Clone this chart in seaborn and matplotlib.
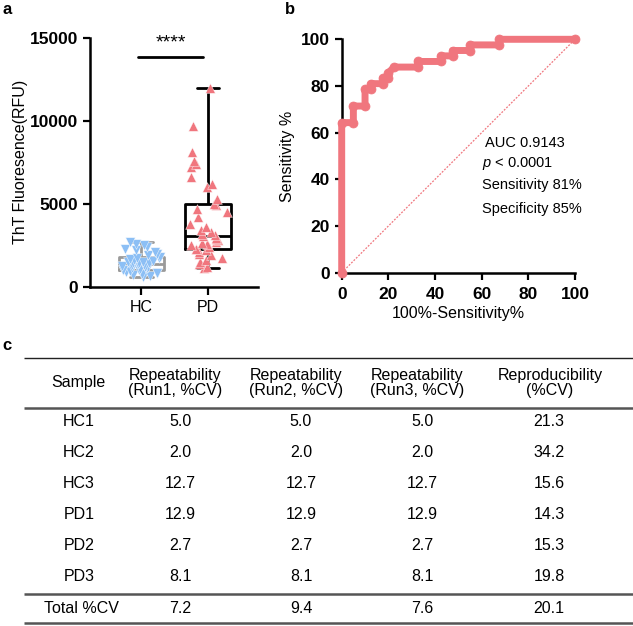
import matplotlib
matplotlib.use("Agg")
import matplotlib.pyplot as plt
import numpy as np
import pandas as pd
import seaborn as sns

sns.set_style("ticks")
plt.rcParams["font.family"] = ["Liberation Sans", "DejaVu Sans"]
plt.rcParams["mathtext.fontset"] = "custom"
plt.rcParams["mathtext.rm"] = "Liberation Sans"
plt.rcParams["mathtext.it"] = "Liberation Sans:italic"
for key in ["text.color", "axes.labelcolor", "xtick.color", "ytick.color", "axes.edgecolor"]:
    plt.rcParams[key] = "black"

BLUE = "#8CBFF5"
SALMON = "#F0767E"

# panel a: ThT fluorescence per subject
hc_values = [600, 650, 700, 750, 800, 850, 900, 950, 980, 1000, 1000, 1050, 1100, 1150,
             1200, 1200, 1250, 1300, 1300, 1350, 1400, 1400, 1450, 1500, 1500, 1550,
             1600, 1650, 1700, 1750, 1800, 1900, 2000, 2100, 2200, 2300, 2400, 2500,
             2600, 2700]
pd_values = [1100, 1200, 1350, 1500, 1600, 1750, 1900, 2000, 2100, 2200, 2250, 2300,
             2400, 2500, 2600, 2650, 2700, 2800, 2900, 2950, 3050, 3100, 3150, 3300,
             3400, 3600, 3800, 4200, 4500, 4700, 4900, 5000, 5300, 6000, 6200, 6600,
             7200, 7400, 7600, 8100, 9700, 12000]
groups = ["HC", "PD"]

# panel b: ROC corner points (100% - specificity, sensitivity)
roc_fpr = [0, 0, 5, 5, 10, 10, 12.5, 12.5, 17.5, 17.5, 20, 20, 22.5, 32.5, 32.5, 42.5,
           42.5, 47.5, 47.5, 55, 55, 67.5, 67.5, 100]
roc_tpr = [0, 64.3, 64.3, 71.4, 71.4, 78.6, 78.6, 81.0, 81.0, 83.3, 83.3, 85.7, 88.1,
           88.1, 90.5, 90.5, 92.9, 92.9, 95.2, 95.2, 97.6, 97.6, 100, 100]
roc_notes = ["AUC 0.9143", r"$\it{p}$ < 0.0001", "Sensitivity 81%", "Specificity 85%"]

# panel c: precision table
col_headers = ["Sample", "Repeatability\n(Run1, %CV)", "Repeatability\n(Run2, %CV)",
               "Repeatability\n(Run3, %CV)", "Reproducibility\n(%CV)"]
samples = ["HC1", "HC2", "HC3", "PD1", "PD2", "PD3"]
run1 = ["5.0", "2.0", "12.7", "12.9", "2.7", "8.1"]
run2 = ["5.0", "2.0", "12.7", "12.9", "2.7", "8.1"]
run3 = ["5.0", "2.0", "12.7", "12.9", "2.7", "8.1"]
repro = ["21.3", "34.2", "15.6", "14.3", "15.3", "19.8"]
total_row = ["Total %CV", "7.2", "9.4", "7.6", "20.1"]

W, H = 633, 626
fig = plt.figure(figsize=(W / 100, H / 100), dpi=100)

# ---------- panel a ----------
df = pd.DataFrame({
    "group": ["HC"] * len(hc_values) + ["PD"] * len(pd_values),
    "value": hc_values + pd_values,
})
ax_a = fig.add_axes([90 / W, 1 - 286.7 / H, 168 / W, 249 / H])
sns.boxplot(data=df[df.group == "HC"], x="group", y="value", order=groups, fill=False,
            color="#9a9a9a", whis=(0, 100), width=0.68, linewidth=2, ax=ax_a)
sns.boxplot(data=df[df.group == "PD"], x="group", y="value", order=groups, fill=False,
            color="black", whis=(0, 100), width=0.68, linewidth=2, ax=ax_a)
np.random.seed(3)
sns.stripplot(data=df[df.group == "HC"], x="group", y="value", order=groups, marker="v",
              color=BLUE, size=7, jitter=0.3, edgecolor="white", linewidth=0.3,
              zorder=5, ax=ax_a)
sns.stripplot(data=df[df.group == "PD"], x="group", y="value", order=groups, marker="^",
              color=SALMON, size=7, jitter=0.3, edgecolor="white", linewidth=0.3,
              zorder=5, ax=ax_a)
ax_a.set_xlim(-0.77, 1.75)
ax_a.set_ylim(0, 15000)
ax_a.set_yticks([0, 5000, 10000, 15000])
ax_a.set_xlabel("")
ax_a.set_ylabel("ThT Fluoresence(RFU)", fontsize=11.5, labelpad=1)
ax_a.plot([-0.05, 0.93], [13850, 13850], color="black", lw=2)
ax_a.text(0.44, 14150, "****", ha="center", va="bottom", fontsize=14)
for lab in ax_a.get_yticklabels():
    lab.set_fontweight("bold")
ax_a.tick_params(axis="y", labelsize=12.5, width=1.6, length=5)
ax_a.tick_params(axis="x", labelsize=11.5, width=1.6, length=6)
for s in ["left", "bottom"]:
    ax_a.spines[s].set_linewidth(1.8)
sns.despine(ax=ax_a)

# ---------- panel b ----------
ax_b = fig.add_axes([341.7 / W, 1 - 272.7 / H, 233.3 / W, 233.4 / H])
ax_b.plot([0, 100], [0, 100], color=SALMON, lw=0.9, ls=(0, (1.5, 1.2)), zorder=2)
sns.lineplot(x=roc_fpr, y=roc_tpr, sort=False, estimator=None, color=SALMON, lw=5,
             solid_capstyle="round", solid_joinstyle="round", ax=ax_b, zorder=4)
sns.scatterplot(x=roc_fpr, y=roc_tpr, color=SALMON, s=42, edgecolor=SALMON,
                ax=ax_b, zorder=5, clip_on=False)
for ln in ax_b.lines:
    ln.set_clip_on(False)
ax_b.set_xlim(0, 100)
ax_b.set_ylim(0, 100)
ax_b.set_xticks(range(0, 101, 20))
ax_b.set_yticks(range(0, 101, 20))
ax_b.set_xlabel("100%-Sensitivity%", fontsize=11.5, labelpad=3)
ax_b.set_ylabel("Sensitivity %", fontsize=11.5)
for lab in ax_b.get_xticklabels() + ax_b.get_yticklabels():
    lab.set_fontweight("bold")
ax_b.tick_params(labelsize=12.5, width=1.6, length=5)
ax_b.tick_params(axis="x", pad=5)
for s in ["left", "bottom"]:
    ax_b.spines[s].set_linewidth(1.8)
sns.despine(ax=ax_b)
for (tx, ty), note in zip([(61.4, 55.6), (60.3, 46.6), (60.1, 37.6), (60.1, 27.3)], roc_notes):
    ax_b.text(tx, ty, note, fontsize=10.5, va="center", ha="left")

# ---------- panel c ----------
ax_c = fig.add_axes([0, 0, 1, 300 / H])
ax_c.set_xlim(0, W)
ax_c.set_ylim(H, H - 300)
ax_c.axis("off")
header_x = [78, 175, 296, 417, 550]
value_x = [79, 180, 301, 422, 549]
ax_c.hlines(358, 24, W, color="#222222", lw=1.0)
for yy in [408, 594, 623]:
    ax_c.hlines(yy, 24, W, color="#555555", lw=1.8)
for hx, htxt in zip(header_x, col_headers):
    ax_c.text(hx, 383, htxt, ha="center", va="center", fontsize=11.5, linespacing=1.05)
rows = list(zip(samples, run1, run2, run3, repro))
for i, row in enumerate(rows):
    ry = 421.5 + i * 31
    for vx, val in zip(value_x, row):
        ax_c.text(vx, ry, val, ha="center", va="center", fontsize=11.5)
for vx, val in zip(value_x, total_row):
    ax_c.text(vx if val != "Total %CV" else 81, 609, val, ha="center", va="center",
              fontsize=11.5)

fig.text(7 / W, 1 - 10 / H, "a", fontsize=12, fontweight="bold", ha="center", va="center")
fig.text(290 / W, 1 - 10 / H, "b", fontsize=12, fontweight="bold", ha="center", va="center")
fig.text(7 / W, 1 - 345 / H, "c", fontsize=12, fontweight="bold", ha="center", va="center")

fig.savefig("out.png", dpi=100)
